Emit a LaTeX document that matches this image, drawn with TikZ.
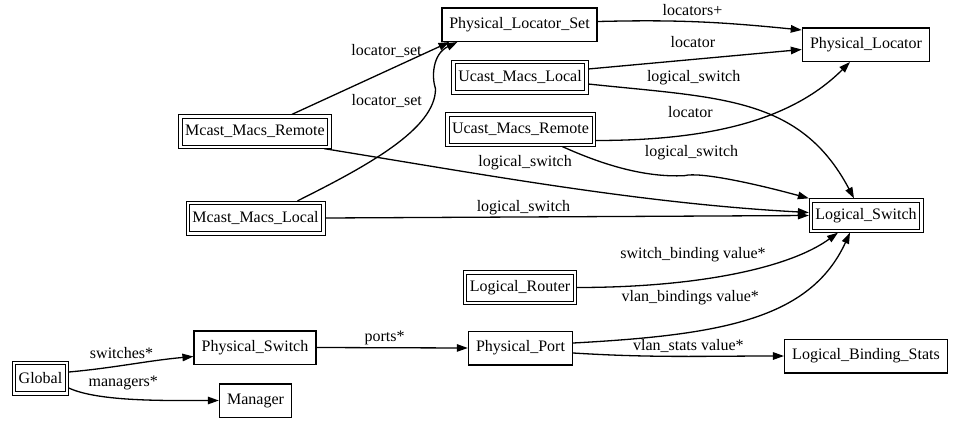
\documentclass[tikz,border=0pt]{standalone}
\usepackage{fontspec}
\setmainfont{Liberation Serif}
\usetikzlibrary{arrows.meta,calc}

\begin{document}
\begin{tikzpicture}[x=1pt,y=-1pt,
    font=\fontsize{16}{19}\selectfont,
    tbl/.style={draw, line width=1.5pt, inner xsep=7.5pt, minimum height=33.5pt},
    dbl/.style={draw, line width=0.7pt, inner xsep=3pt, minimum height=27.3pt, outer sep=3.5pt},
    link/.style={-{Triangle[length=11pt,width=7.5pt]}, line width=1.3pt},
    lbl/.style={inner sep=1pt}]
\useasboundingbox (0,0) rectangle (956,426);

\foreach \nm/\x/\y/\txt in {
    pls/519.5/24.5/Physical\_Locator\_Set,
    pl/866/44.5/Physical\_Locator,
    psw/255/347.5/Physical\_Switch,
    mgr/255.5/400.5/Manager,
    pport/520.5/348/Physical\_Port,
    lbs/866/356/Logical\_Binding\_Stats} {
    \node[tbl] (\nm) at (\x,\y) {\txt};
}

% root tables
\foreach \nm/\x/\y/\txt in {
    gl/40.5/378/Global,
    lr/520/287.5/Logical\_Router,
    ls/866/215.5/Logical\_Switch,
    mml/255.5/218/Mcast\_Macs\_Local,
    mmr/255/131.5/Mcast\_Macs\_Remote,
    uml/520/77/Ucast\_Macs\_Local,
    umr/520.5/129.5/Ucast\_Macs\_Remote} {
    \node[dbl] (\nm) at (\x,\y) {\txt};
    \draw[line width=0.7pt] (\nm.south west) rectangle (\nm.north east);
}

\draw[link] ($(gl.east)+(0,-6)$) .. controls +(45,-4) and +(-45,4) .. ($(psw.west)+(0,9)$) node[lbl,pos=.42,above=5pt] {switches*};
\draw[link] ($(gl.east)+(0,10)$) .. controls +(30,14) and +(-50,0) .. (mgr.west) node[lbl,pos=.42,above=7.5pt] {managers*};
\draw[link] (psw.east) -- (pport.west) node[lbl,pos=.45,above=1pt] {ports*};
\draw[link] ($(pport.east)+(0,5)$) .. controls +(80,5) and +(-80,0) .. (lbs.west) node[lbl,pos=.55,above=2pt] {vlan\_stats value*};
\draw[link] ($(pport.east)+(0,-5)$) .. controls +(147,-8) and +(-40,87) .. ($(ls.south)+(-16,0)$) node[lbl,pos=.3,above=25pt] {vlan\_bindings value*};
\draw[link] (lr.east) .. controls +(122,0) and +(-48,35) .. ($(ls.south)+(-28,0)$) node[lbl,pos=.35,above=17pt] {switch\_binding value*};

% multicast
\draw[link] (mml.east) -- (ls.west) node[lbl,pos=.41,above=0pt] {logical\_switch};
\draw[link] ($(mmr.south east)+(-7,0)$) .. controls +(160,26) and +(-168,-9) .. ($(ls.west)+(0,-3)$) node[lbl,pos=.42,above=10pt] {logical\_switch};
\draw[link] ($(mml.north)+(42,0)$) .. controls +(70,-35) and +(0,40) .. ++(138,-112) node[lbl,pos=.9,left=10pt] {locator\_set}
    .. controls +(-4,-12) and +(-25,12) .. ($(pls.south)+(-62,0)$);
\draw[link] ($(mmr.north)+(37,0)$) -- ($(pls.south)+(-70,0)$) node[lbl,pos=.6,above=12pt] {locator\_set};

% unicast
\draw[link] ($(pls.east)+(0,-3)$) .. controls +(80,-2) and +(-80,-8) .. ($(pl.north west)+(0,3)$) node[lbl,pos=.46,above=4pt] {locators+};
\draw[link] ($(uml.east)+(0,-8)$) -- ($(pl.west)+(0,5)$) node[lbl,pos=.49,above=10pt] {locator};
\draw[link] ($(uml.east)+(0,7)$) .. controls +(132,14) and +(-54,-102) .. ($(ls.north)+(-12,0)$) node[lbl,pos=.3,above=9pt] {logical\_switch};
\draw[link] ($(umr.east)+(0,11)$) .. controls +(110,0) and +(-60,60) .. ($(pl.south)+(-16,0)$) node[lbl,pos=.31,above=15pt] {locator};
\draw[link] ($(umr.south)+(42,0)$) .. controls +(40,18) and +(-40,2) .. ++(122,29) node[lbl,pos=1,above=14pt,xshift=7pt] {logical\_switch}
    .. controls +(15,-4) and +(-55,-15) .. (ls.north west);
\end{tikzpicture}
\end{document}
